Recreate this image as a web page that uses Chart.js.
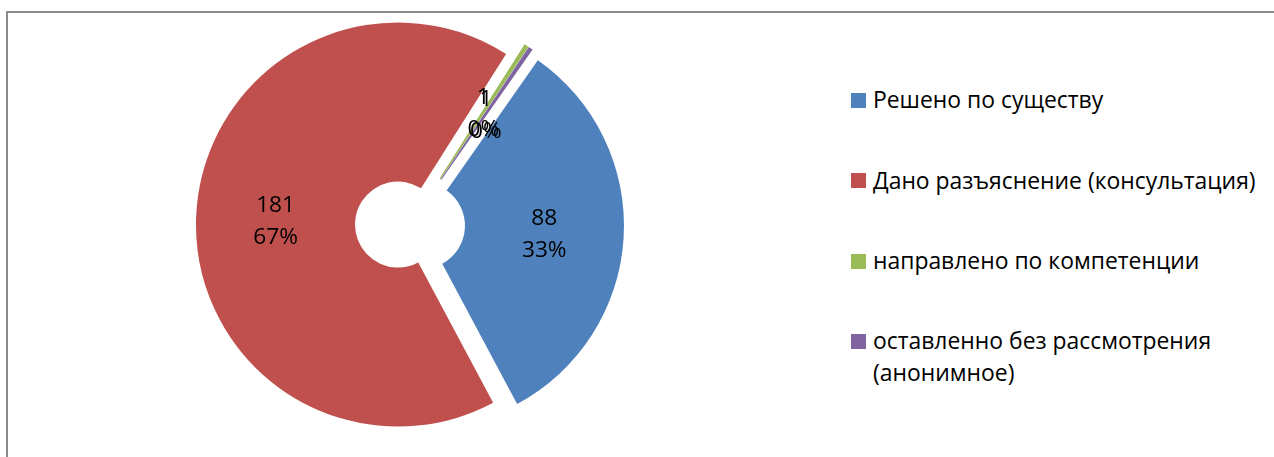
<!DOCTYPE html>
<html>
<head>
<meta charset="utf-8">
<script src="https://cdn.jsdelivr.net/npm/chart.js@4/dist/chart.umd.min.js"></script>
<style>
html,body{margin:0;padding:0;background:#fff;width:1274px;height:457px;overflow:hidden;}
#frame{position:absolute;left:6px;top:11px;width:1400px;height:600px;border:2px solid #8c8c8c;box-sizing:border-box;}
#wrap{position:absolute;left:0;top:0;width:820px;height:457px;}
#legend{position:absolute;left:0;top:0;font-family:'Open Sans',sans-serif;font-size:22.9px;color:#000;}
.item{position:absolute;left:873px;width:398px;line-height:31.5px;}
.sw{position:absolute;left:-22px;top:8.5px;width:15px;height:15px;}
</style>
</head>
<body>
<div id="frame"></div>
<div id="wrap"><canvas id="c" width="820" height="457"></canvas></div>
<div id="legend"></div>
<script>
const categories = ["Решено по существу", "Дано разъяснение (консультация)", "направлено по компетенции", "оставленно без рассмотрения (анонимное)"];
const values = [88, 181, 1, 1];
const percentLabels = ["33%", "67%", "0%", "0%"];
const colors = ["#4F81BD", "#C0504D", "#9BBB59", "#8064A2"];

const explodePx = 12;
const labelFont = "22.7px 'Open Sans'";
const lineGap = 32.5;
const capH = 16;

const explodePlugin = {
  id: 'explode',
  beforeDatasetsDraw(chart) {
    const ctx = chart.ctx;
    const meta = chart.getDatasetMeta(0);
    meta.data.forEach(arc => {
      const mid = (arc.startAngle + arc.endAngle) / 2;
      ctx.save();
      ctx.translate(Math.cos(mid) * explodePx, Math.sin(mid) * explodePx);
      arc.draw(ctx);
      ctx.restore();
    });
    return false;
  },
  afterDraw(chart) {
    const ctx = chart.ctx;
    const meta = chart.getDatasetMeta(0);
    ctx.save();
    ctx.font = labelFont;
    ctx.fillStyle = '#000';
    ctx.textAlign = 'center';
    ctx.textBaseline = 'alphabetic';
    meta.data.forEach((arc, i) => {
      const mid = (arc.startAngle + arc.endAngle) / 2;
      const r = (arc.innerRadius + arc.outerRadius) / 2 + explodePx;
      const px = arc.x + Math.cos(mid) * r;
      const py = arc.y + Math.sin(mid) * r;
      ctx.fillText(String(values[i]), px, py - lineGap / 2 + capH / 2);
      ctx.fillText(percentLabels[i], px, py + lineGap / 2 + capH / 2);
    });
    ctx.restore();
  }
};

new Chart(document.getElementById('c'), {
  type: 'doughnut',
  data: {
    labels: categories,
    datasets: [{
      data: values,
      backgroundColor: colors,
      borderWidth: 0,
      hoverOffset: 0
    }]
  },
  options: {
    responsive: false,
    animation: false,
    rotation: 35,
    cutout: 43,
    layout: { padding: { left: 208, right: 208, top: 23, bottom: 30 } },
    plugins: { legend: { display: false }, tooltip: { enabled: false } },
    events: []
  },
  plugins: [explodePlugin]
});

const legend = document.getElementById('legend');
categories.forEach((name, i) => {
  const it = document.createElement('div');
  it.className = 'item';
  it.style.top = (84.4 + i * 80.3) + 'px';
  const sw = document.createElement('span');
  sw.className = 'sw';
  sw.style.background = colors[i];
  it.appendChild(sw);
  it.appendChild(document.createTextNode(name));
  legend.appendChild(it);
});
</script>
</body>
</html>
